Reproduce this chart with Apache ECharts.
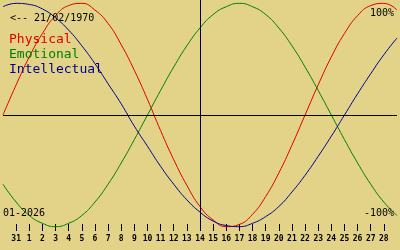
<!DOCTYPE html>
<html>
<head>
<meta charset="utf-8">
<script src="https://cdn.jsdelivr.net/npm/echarts@6/dist/echarts.min.js"></script>
<style>
html,body{margin:0;padding:0;background:#e2d388;}
#c{width:400px;height:250px;}
</style>
</head>
<body>
<div id="c"></div>
<script>
// Day tick labels (31 Dec 2025 .. 28 Jan 2026)
const dayLabels = ['31','1','2','3','4','5','6','7','8','9','10','11','12','13','14','15','16','17','18','19','20','21','22','23','24','25','26','27','28'];
// Values (−1..1) read at each day, including one day beyond each edge
const physical = [0, 0.27, 0.52, 0.73, 0.89, 0.98, 1.0, 0.94, 0.82, 0.63, 0.40, 0.14, -0.14, -0.40, -0.63, -0.82, -0.94, -1.0, -0.98, -0.89, -0.73, -0.52, -0.27, 0, 0.27, 0.52, 0.73, 0.89, 0.98, 1.0, 0.94];
const emotional = [-0.62, -0.78, -0.90, -0.97, -1.0, -0.97, -0.90, -0.78, -0.62, -0.43, -0.22, 0, 0.22, 0.43, 0.62, 0.78, 0.90, 0.97, 1.0, 0.97, 0.90, 0.78, 0.62, 0.43, 0.22, 0, -0.22, -0.43, -0.62, -0.78, -0.90];
const intellectual = [0.97, 1.0, 0.99, 0.95, 0.87, 0.76, 0.62, 0.46, 0.28, 0.10, -0.10, -0.28, -0.46, -0.62, -0.76, -0.87, -0.95, -0.99, -1.0, -0.97, -0.91, -0.82, -0.69, -0.54, -0.37, -0.19, 0, 0.19, 0.37, 0.54, 0.69];
const seriesNames = ['Physical', 'Emotional', 'Intellectual'];
const birthText = '<-- 21/02/1970';
const monthText = '01-2026';
const topText = '100%';
const bottomText = '-100%';

const categories = [''].concat(dayLabels, ['']);
const colors = ['#e00000', '#008000', '#000090'];
const mono = 'DejaVu Sans Mono';

const chart = echarts.init(document.getElementById('c'), null, {renderer: 'canvas'});
function t(text, pos, size, color) {
  return Object.assign({
    text: text, padding: 0,
    textStyle: {fontFamily: mono, fontSize: size, fontWeight: 'normal', color: color, lineHeight: size + 2}
  }, pos);
}
chart.setOption({
  animation: false,
  backgroundColor: '#e2d388',
  title: [
    t(birthText, {left: 10, top: 12}, 10, '#000'),
    t(seriesNames[0], {left: 9, top: 32}, 13, colors[0]),
    t(seriesNames[1], {left: 9, top: 47}, 13, colors[1]),
    t(seriesNames[2], {left: 9, top: 62}, 13, colors[2]),
    t(topText, {right: 6, top: 7}, 10, '#000'),
    t(bottomText, {right: 6, top: 207}, 10, '#000'),
    t(monthText, {left: 3, top: 207}, 10, '#000')
  ],
  grid: {left: 0, right: 0, top: 0, bottom: 20},
  xAxis: {
    type: 'category',
    data: categories,
    boundaryGap: false,
    offset: -6,
    axisLine: {show: false, onZero: false},
    axisTick: {
      show: true, length: 7,
      interval: function (i) { return i >= 1 && i <= dayLabels.length; },
      lineStyle: {color: '#000', width: 1}
    },
    axisLabel: {
      interval: 0, margin: 11,
      fontFamily: mono, fontSize: 8, fontWeight: 'bold', color: '#000', lineHeight: 8
    },
    splitLine: {show: false}
  },
  yAxis: {
    type: 'value', min: -1.03, max: 1.03,
    axisLine: {show: false}, axisTick: {show: false}, axisLabel: {show: false}, splitLine: {show: false}
  },
  series: [
    {
      name: seriesNames[0], type: 'line', data: physical, smooth: true, symbol: 'none',
      lineStyle: {color: colors[0], width: 1},
      markLine: {
        silent: true, symbol: 'none', label: {show: false},
        lineStyle: {color: '#000', type: 'solid', width: 1},
        data: [{xAxis: '14'}, {yAxis: 0}]
      }
    },
    {name: seriesNames[1], type: 'line', data: emotional, smooth: true, symbol: 'none', lineStyle: {color: colors[1], width: 1}},
    {name: seriesNames[2], type: 'line', data: intellectual, smooth: true, symbol: 'none', lineStyle: {color: colors[2], width: 1}}
  ]
});
</script>
</body>
</html>
